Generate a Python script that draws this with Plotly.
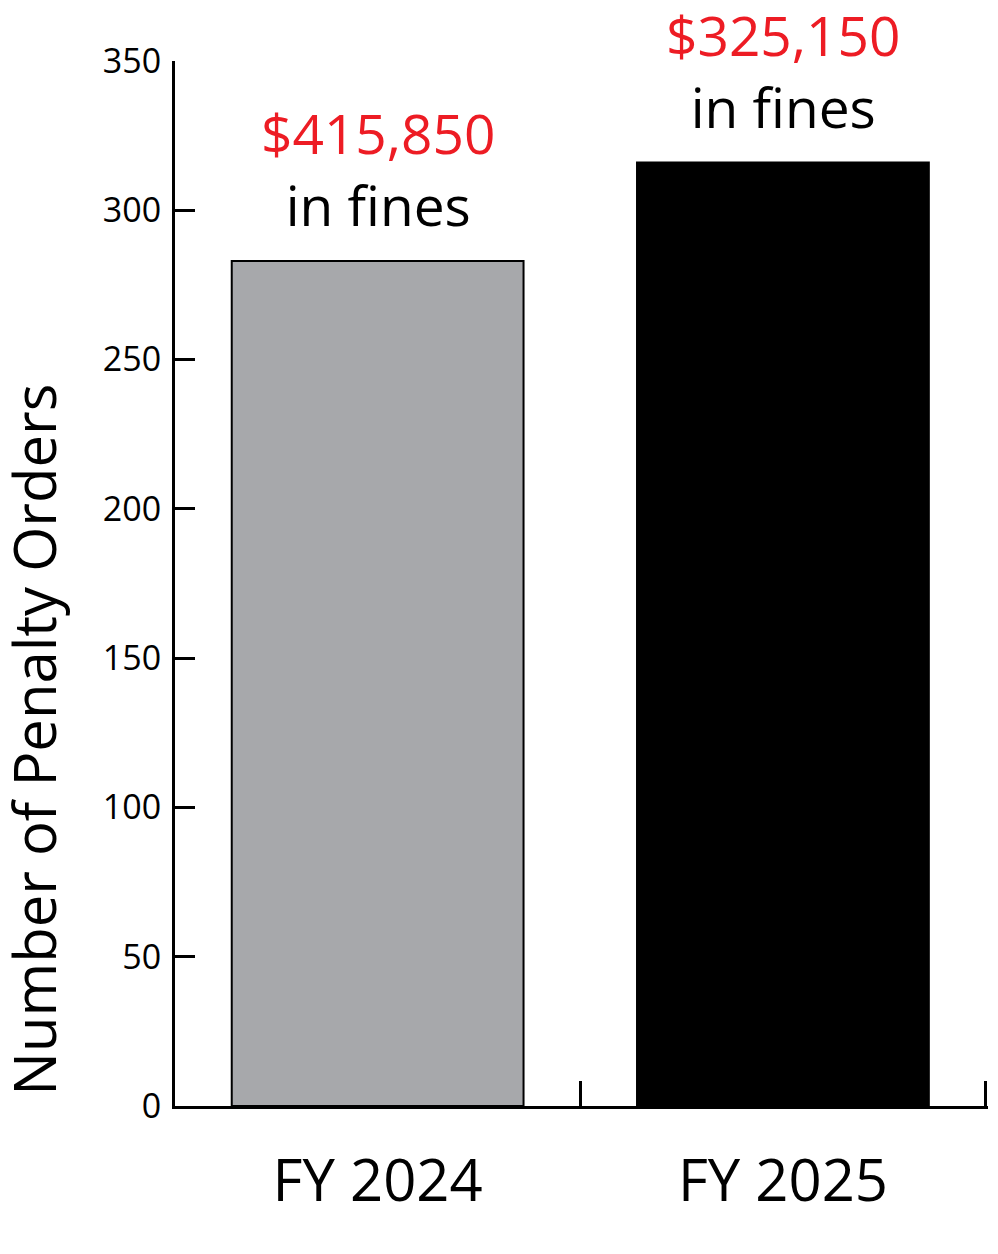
import plotly.graph_objects as go

# data
years = ["FY 2024", "FY 2025"]
penalty_orders = [283, 316]
fines = ["$415,850", "$325,150"]
bar_colors = ["#a7a8ab", "#000000"]

fig = go.Figure()
fig.add_trace(go.Bar(
    x=years,
    y=penalty_orders,
    width=0.72,
    marker=dict(color=bar_colors, line=dict(color="#000000", width=2)),
    hoverinfo="skip",
))

# fines labels above each bar
for yr, n, amount in zip(years, penalty_orders, fines):
    fig.add_annotation(
        x=yr, y=n,
        text=f"<span style='color:#ed1c24'>{amount}</span><br>in fines",
        showarrow=False,
        yanchor="bottom",
        yshift=17,
        font=dict(size=55, color="#000000", family="Open Sans"),
    )

# y title placed like the reference (sits low, not centred on the axis)
fig.add_annotation(
    text="Number of Penalty Orders",
    xref="paper", yref="paper",
    x=-0.174, y=0.35,
    xanchor="center", yanchor="middle",
    textangle=-90,
    showarrow=False,
    font=dict(size=58, color="#000000", family="Open Sans"),
)

fig.update_layout(
    width=982,
    height=1238,
    margin=dict(l=167, r=2, t=53, b=140),
    plot_bgcolor="white",
    paper_bgcolor="white",
    showlegend=False,
    font=dict(family="Open Sans", color="#000000"),
)

fig.update_xaxes(
    range=[-0.5, 1.506],
    showline=True, linecolor="#000000", linewidth=3,
    ticks="inside", tickson="boundaries", ticklen=25, tickwidth=3, tickcolor="#000000",
    tickfont=dict(size=58),
    ticklabelstandoff=22,
    showgrid=False,
)
fig.update_yaxes(
    range=[0, 350], dtick=50,
    showline=True, linecolor="#000000", linewidth=3,
    ticks="inside", ticklen=20, tickwidth=3, tickcolor="#000000",
    tickfont=dict(size=34),
    ticklabelstandoff=4,
    showgrid=False, zeroline=False,
)

fig.write_html("out.html")
